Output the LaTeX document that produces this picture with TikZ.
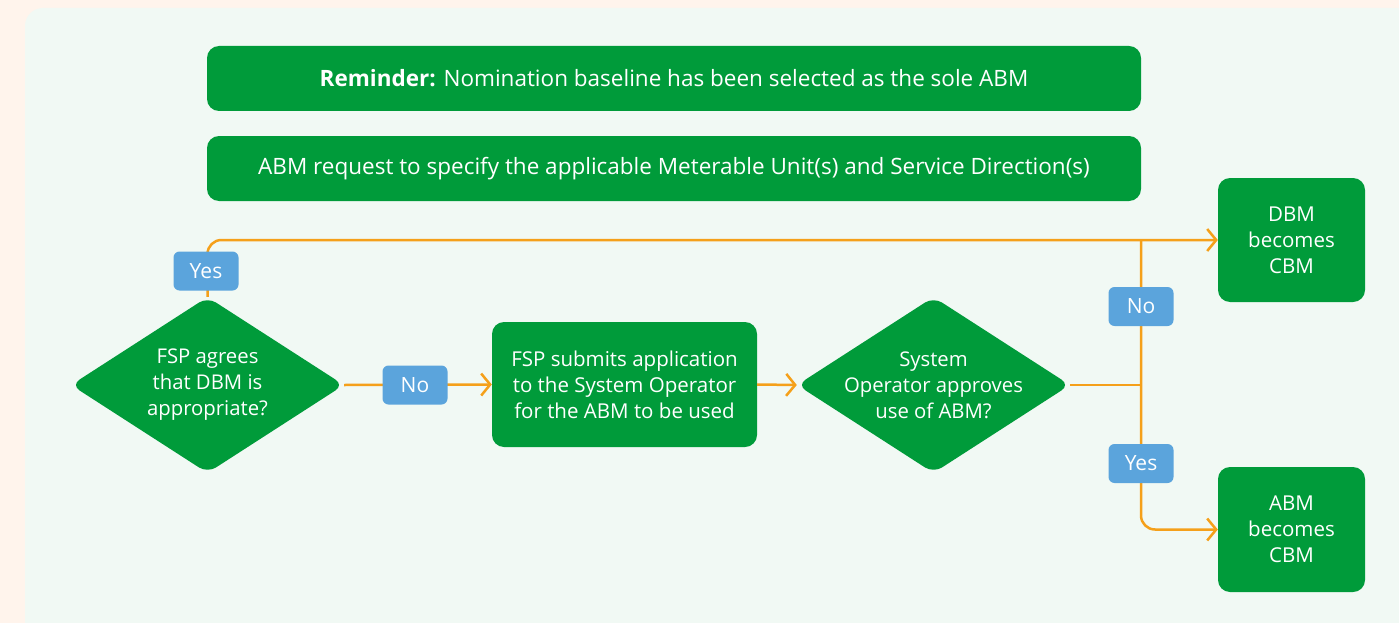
\documentclass[tikz,border=0pt]{standalone}
\usepackage{fontspec}
\setmainfont{Open Sans}
\usetikzlibrary{shapes.geometric,arrows.meta}
\definecolor{peach}{HTML}{FFF4EC}
\definecolor{panel}{HTML}{F1F9F4}
\definecolor{gr}{HTML}{009B3A}
\definecolor{lbl}{HTML}{5BA4DC}
\definecolor{orng}{HTML}{F5A01A}
\tikzset{
  gbox/.style={fill=gr, rounded corners=12pt, text=white, align=center, inner sep=0pt, font=\fontsize{20.5}{26}\selectfont},
  wide/.style={gbox, minimum width=934pt, minimum height=65pt, font=\fontsize{22.5}{26}\selectfont},
  gdia/.style={diamond, fill=gr, rounded corners=10pt, inner sep=0pt, aspect=1.56, minimum width=273pt, minimum height=176pt},
  diatext/.style={text=white, align=center, inner sep=0pt, font=\fontsize{20.3}{26}\selectfont},
  tag/.style={fill=lbl, rounded corners=6pt, text=white, minimum width=65pt, minimum height=39pt, inner sep=0pt, font=\fontsize{21}{22}\selectfont},
  flow/.style={draw=orng, line width=2.5pt},
  tip/.style={-{Straight Barb[length=9pt,width=22pt,line width=2.5pt]}},
}
\begin{document}
\begin{tikzpicture}[x=1pt,y=-1pt]
\useasboundingbox (0,0) rectangle (1399,623);
\fill[peach] (0,0) rectangle (1399,623);
\fill[panel, rounded corners=18pt] (25,8) rectangle (1430,660);
\node[wide] (rem) at (674,78.5) {\textbf{Reminder:} Nomination baseline has been selected as the sole ABM};
\node[wide] (req) at (674,168.5) {ABM request to specify the applicable Meterable Unit(s) and Service Direction(s)};
\node[gdia, label={[diatext]center:FSP agrees\\that DBM is\\appropriate?}] (d1) at (207.5,385) {};
\node[gbox, minimum width=265pt, minimum height=125pt] (sub) at (624.5,384.5) {FSP submits application\\to the System Operator\\for the ABM to be used};
\node[gdia, label={[diatext]center:System\\Operator approves\\use of ABM?}] (d2) at (933.5,385) {};
\node[gbox, minimum width=147pt, minimum height=124pt] (dbm) at (1291.5,240) {DBM\\becomes\\CBM};
\node[gbox, minimum width=147pt, minimum height=125pt] (abm) at (1291.5,529.5) {ABM\\becomes\\CBM};
\coordinate (jt) at (1141,240);
\coordinate (jm) at (1141,385);
\draw[flow, tip, rounded corners=14pt] (d1.north) |- (dbm.west);
\draw[flow, tip] (d1.east) -- (sub.west);
\draw[flow, tip] (sub.east) -- (d2.west);
\draw[flow] (d2.east) -- (jm);
\draw[flow, tip, rounded corners=14pt] (jt) |- (abm.west);
\node[tag] (y1) at (206,271) {Yes};
\node[tag] (n1) at (415,385) {No};
\node[tag] (n2) at (1141,306.5) {No};
\node[tag] (y2) at (1141,463.5) {Yes};
\end{tikzpicture}
\end{document}
